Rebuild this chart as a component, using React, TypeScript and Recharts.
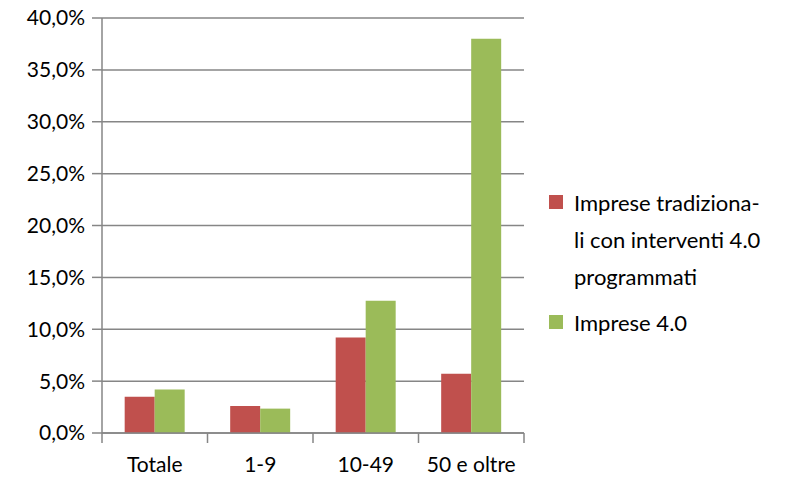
import React from "react";
import { BarChart, Bar, XAxis, YAxis, CartesianGrid, Legend } from "recharts";

const categories = ["Totale", "1-9", "10-49", "50 e oltre"];
const tradizionali = [3.5, 2.6, 9.2, 5.7];
const imprese40 = [4.2, 2.35, 12.75, 38.0];
const yTicks = [0, 5, 10, 15, 20, 25, 30, 35, 40];
const legendRed = ["Imprese tradiziona-", "li con interventi 4.0", "programmati"];
const legendGreen = ["Imprese 4.0"];

const data = categories.map((c, i) => ({ name: c, trad: tradizionali[i], i40: imprese40[i] }));

const RED = "#C0504D";
const GREEN = "#9BBB59";
const GRAY = "#868686";
const FONT = "Lato, 'Open Sans', sans-serif";

const fmt = (v: number) => v.toFixed(1).replace(".", ",") + "%";

const XTick = (props: any) => {
  const { x, y, payload, index } = props;
  const off = payload && payload.offset ? payload.offset : 52.75;
  const last = index === categories.length - 1;
  return (
    <g>
      <line x1={x - off} y1={y - 8} x2={x - off} y2={y + 2} stroke={GRAY} strokeWidth={1.5} />
      {last && <line x1={x + off} y1={y - 8} x2={x + off} y2={y + 2} stroke={GRAY} strokeWidth={1.5} />}
      <text x={x} y={y + 31} textAnchor="middle" fill="#000" fontSize={21} fontFamily={FONT}>
        {payload.value}
      </text>
    </g>
  );
};

const LegendContent = () => (
  <div style={{ fontFamily: FONT, fontSize: 22, color: "#000", width: 260 }}>
    <div style={{ position: "relative", paddingLeft: 34, lineHeight: "37px" }}>
      <span style={{ position: "absolute", left: 9, top: 11, width: 14, height: 14, background: RED }} />
      {legendRed.map((l) => (
        <div key={l}>{l}</div>
      ))}
    </div>
    <div style={{ position: "relative", paddingLeft: 34, lineHeight: "37px", marginTop: 9 }}>
      <span style={{ position: "absolute", left: 9, top: 11, width: 14, height: 14, background: GREEN }} />
      {legendGreen.map((l) => (
        <div key={l}>{l}</div>
      ))}
    </div>
  </div>
);

export default function App() {
  return (
    <div style={{ margin: "-8px 0 0 -8px", width: 805, height: 481 }}>
      <BarChart
        width={805}
        height={481}
        data={data}
        margin={{ top: 18, right: 21, left: 0, bottom: 8 }}
        barCategoryGap="21.5%"
        barGap={0}
      >
        <CartesianGrid vertical={false} stroke={GRAY} strokeWidth={1.5} />
        <XAxis
          dataKey="name"
          height={40}
          axisLine={{ stroke: GRAY, strokeWidth: 1.5 }}
          tickLine={false}
          tick={<XTick />}
          interval={0}
        />
        <YAxis
          width={102}
          domain={[0, 40]}
          ticks={yTicks}
          tickFormatter={fmt}
          axisLine={{ stroke: GRAY, strokeWidth: 1.5 }}
          tickLine={{ stroke: GRAY, strokeWidth: 1.5 }}
          tickSize={10}
          tickMargin={7}
          tick={{ fill: "#000", fontSize: 21, fontFamily: FONT }}
          interval={0}
        />
        <Legend
          layout="vertical"
          align="right"
          verticalAlign="middle"
          content={<LegendContent />}
          wrapperStyle={{ left: 540, top: 184, width: 260 }}
        />
        <Bar dataKey="trad" fill={RED} isAnimationActive={false} />
        <Bar dataKey="i40" fill={GREEN} isAnimationActive={false} />
      </BarChart>
    </div>
  );
}
